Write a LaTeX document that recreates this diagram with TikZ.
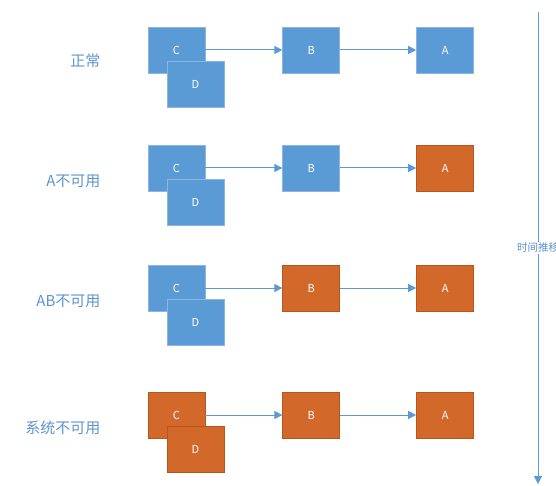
\documentclass[tikz,border=0pt]{standalone}
\usepackage{fontspec}
\setmainfont{Noto Sans CJK SC}
\usepackage{xcolor}
\usetikzlibrary{positioning, arrows.meta}

\definecolor{nodeblue}{HTML}{5B9BD5}
\definecolor{edgeblue}{HTML}{8DB4E2}
\definecolor{nodeorange}{HTML}{D2692A}
\definecolor{edgeorange}{HTML}{B5561C}
\definecolor{labelblue}{HTML}{5B94CF}

\begin{document}
\begin{tikzpicture}[x=1pt, y=-1pt,
    svc/.style={draw=edgeblue, fill=nodeblue, line width=0.8pt, minimum width=57pt, minimum height=46pt, inner sep=0pt, text=white, font=\fontsize{11}{12}\selectfont},
    down/.style={svc, draw=edgeorange, fill=nodeorange},
    flow/.style={draw=nodeblue, line width=1pt, -{Triangle[width=8pt, length=8pt]}},
    state/.style={anchor=east, text=labelblue, font=\fontsize{15}{17}\selectfont}]
    \useasboundingbox (0,0) rectangle (556,486);

    % Row 1: normal
    \node[svc] (c1) at (176.5,50) {C};
    \node[svc] (d1) at (195.5,84) {D};
    \node[svc, right=77pt of c1] (b1) {B};
    \node[svc, right=76pt of b1] (a1) {A};
    \node[state] (s1) at (104,61) {正常};

    % Row 2: A down
    \node[svc] (c2) at (176.5,168) {C};
    \node[svc] (d2) at (195.5,202) {D};
    \node[svc, right=77pt of c2] (b2) {B};
    \node[down, right=76pt of b2] (a2) {A};
    \node[state] (s2) at (104,181) {A不可用};

    % Row 3: A and B down
    \node[svc] (c3) at (176.5,288) {C};
    \node[svc] (d3) at (195.5,322) {D};
    \node[down, right=77pt of c3] (b3) {B};
    \node[down, right=76pt of b3] (a3) {A};
    \node[state] (s3) at (104,301) {AB不可用};

    % Row 4: everything down
    \node[down] (c4) at (176.5,415) {C};
    \node[down] (d4) at (195.5,449) {D};
    \node[down, right=77pt of c4] (b4) {B};
    \node[down, right=76pt of b4] (a4) {A};
    \node[state] (s4) at (104,428) {系统不可用};

    % Call arrows
    \foreach \r in {1,...,4} {
        \draw[flow] (c\r.east) -- (b\r.west);
        \draw[flow] (b\r.east) -- (a\r.west);
    }

    % Time axis
    \coordinate (t0) at (538,12);
    \coordinate (t1) at (538,484);
    \draw[flow] (t0) -- (t1);
    \node[fill=white, inner sep=1pt, anchor=west, text=labelblue, font=\fontsize{10.5}{12}\selectfont] (time) at (516,248) {时间推移};
\end{tikzpicture}
\end{document}
